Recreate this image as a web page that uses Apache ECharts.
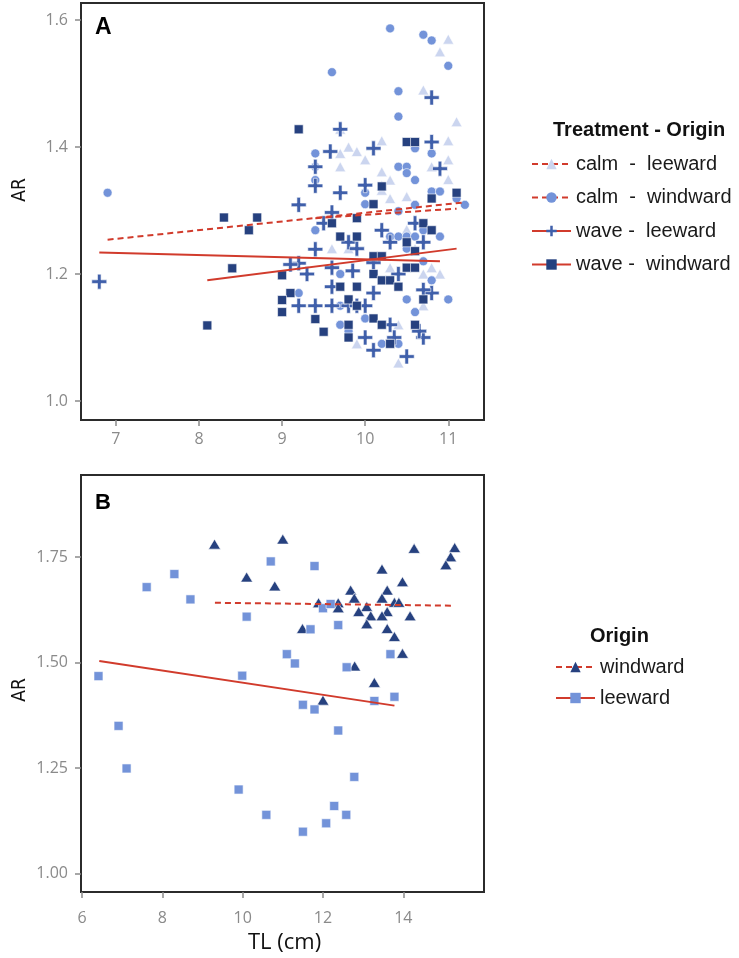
<!DOCTYPE html>
<html>
<head>
<meta charset="utf-8">
<script src="https://cdn.jsdelivr.net/npm/echarts@6/dist/echarts.min.js"></script>
<style>html,body{margin:0;padding:0;background:#fff;}#chart{width:739px;height:958px;}</style>
</head>
<body>
<div id="chart"></div>
<script>
// ---------- Panel A data (TL, AR) ----------
const calmLeeward = [[11.0,1.57],[10.9,1.55],[10.7,1.49],[11.1,1.44],[9.7,1.428],[9.8,1.40],[9.9,1.393],[10.2,1.41],[11.0,1.41],[9.7,1.39],[10.0,1.38],[11.0,1.38],[9.7,1.369],[10.2,1.361],[10.8,1.369],[11.0,1.349],[10.2,1.34],[10.3,1.348],[10.2,1.332],[10.3,1.319],[10.5,1.322],[10.5,1.27],[9.6,1.24],[9.8,1.24],[10.3,1.21],[10.7,1.2],[10.8,1.21],[10.9,1.2],[10.4,1.12],[9.9,1.09],[10.4,1.06],[10.7,1.15],[10.6,1.24],[10.3,1.26]];
const calmWindward = [[6.9,1.328],[10.3,1.587],[10.7,1.577],[10.8,1.568],[11.0,1.528],[9.6,1.518],[10.4,1.488],[10.4,1.448],[10.6,1.398],[9.4,1.39],[10.8,1.39],[9.4,1.369],[10.4,1.369],[10.5,1.369],[10.5,1.359],[10.6,1.348],[9.4,1.348],[10.0,1.328],[10.8,1.33],[10.9,1.33],[11.1,1.319],[11.2,1.309],[10.0,1.31],[10.6,1.309],[10.4,1.299],[9.4,1.269],[10.7,1.269],[10.9,1.259],[10.3,1.259],[10.4,1.259],[10.5,1.259],[10.6,1.259],[10.5,1.24],[10.7,1.22],[9.7,1.20],[10.8,1.19],[9.2,1.17],[9.7,1.15],[10.0,1.13],[9.7,1.12],[9.8,1.11],[10.2,1.09],[10.4,1.09],[10.6,1.14],[11.0,1.16],[10.5,1.16]];
const waveLeeward = [[6.8,1.188],[10.8,1.478],[9.7,1.428],[10.1,1.398],[10.8,1.408],[9.58,1.393],[9.4,1.369],[10.9,1.366],[9.4,1.339],[10.0,1.340],[9.7,1.328],[9.2,1.309],[9.6,1.297],[9.5,1.28],[10.6,1.28],[10.2,1.269],[10.7,1.25],[9.8,1.25],[9.9,1.24],[9.4,1.239],[10.3,1.25],[10.1,1.218],[9.2,1.217],[9.3,1.2],[9.6,1.21],[9.1,1.215],[10.1,1.17],[9.6,1.18],[9.2,1.15],[9.4,1.15],[9.6,1.15],[9.8,1.15],[9.9,1.15],[10.0,1.15],[10.3,1.12],[10.35,1.10],[10.7,1.10],[10.0,1.10],[10.1,1.08],[10.5,1.07],[10.8,1.17],[10.7,1.175],[10.65,1.11],[10.4,1.2],[9.85,1.205]];
const waveWindward = [[9.2,1.428],[10.5,1.408],[10.6,1.408],[10.2,1.338],[10.8,1.319],[11.1,1.328],[10.1,1.31],[8.3,1.289],[8.7,1.289],[8.6,1.269],[9.6,1.28],[9.9,1.288],[10.7,1.28],[10.8,1.269],[9.7,1.259],[9.9,1.259],[10.5,1.25],[10.6,1.236],[10.1,1.228],[10.2,1.228],[9.0,1.198],[10.5,1.21],[10.6,1.21],[10.1,1.2],[10.2,1.19],[10.3,1.19],[8.4,1.209],[8.1,1.119],[9.1,1.17],[9.0,1.159],[9.0,1.14],[9.8,1.16],[9.9,1.15],[9.7,1.18],[9.9,1.18],[9.4,1.129],[9.5,1.109],[10.1,1.13],[10.2,1.12],[10.6,1.12],[9.8,1.12],[9.8,1.10],[10.3,1.09],[10.7,1.16],[10.4,1.18]];
// fitted lines (endpoints) panel A
const fitCalmLeeward = [[9.4,1.288],[11.1,1.303]];
const fitCalmWindward = [[6.9,1.254],[11.2,1.313]];
const fitWaveLeeward = [[6.8,1.234],[10.9,1.220]];
const fitWaveWindward = [[8.1,1.190],[11.1,1.240]];

// ---------- Panel B data ----------
const windwardB = [[9.3,1.781],[11.0,1.793],[10.1,1.703],[10.8,1.682],[14.27,1.771],[15.28,1.773],[15.18,1.751],[15.06,1.732],[13.47,1.722],[13.98,1.692],[12.69,1.672],[13.6,1.672],[11.89,1.642],[12.38,1.642],[12.78,1.653],[13.47,1.653],[13.78,1.643],[13.89,1.643],[12.38,1.63],[13.09,1.633],[12.89,1.621],[13.19,1.611],[13.6,1.621],[13.47,1.611],[14.17,1.611],[13.09,1.592],[13.6,1.581],[11.49,1.581],[13.78,1.562],[13.98,1.522],[12.79,1.492],[13.28,1.453],[12.0,1.411]];
const leewardB = [[6.41,1.468],[7.61,1.679],[8.3,1.71],[8.7,1.65],[10.1,1.609],[9.99,1.469],[10.7,1.74],[11.79,1.729],[11.69,1.579],[12.0,1.629],[12.19,1.639],[12.38,1.589],[11.1,1.52],[11.3,1.498],[12.59,1.489],[13.68,1.52],[11.5,1.40],[11.79,1.389],[13.28,1.409],[13.78,1.419],[12.38,1.339],[6.91,1.35],[7.11,1.249],[9.9,1.199],[10.59,1.139],[11.5,1.099],[12.08,1.119],[12.28,1.16],[12.58,1.139],[12.78,1.229]];
const fitWindwardB = [[9.31,1.642],[15.28,1.635]];
const fitLeewardB = [[6.43,1.504],[13.78,1.398]];

// ---------- ticks ----------
const xTicksA = [7,8,9,10,11];
const yTicksA = [1.0,1.2,1.4,1.6];
const xTicksB = [6,8,10,12,14];
const yTicksB = [1.00,1.25,1.50,1.75];

const legendNamesA = ['calm  -  leeward','calm  -  windward','wave -  leeward','wave -  windward'];
const legendNamesB = ['windward','leeward'];

const C_LIGHT = '#cbd5ef', C_MID = '#7393d9', C_PLUS = '#3f5faa', C_DARK = '#26417f', C_RED = '#d13b2c';
const PLUS = 'path://M3.8,0H6.2V3.8H10V6.2H6.2V10H3.8V6.2H0V3.8H3.8Z';
const tickFont = {color:'#8a8a8a', fontSize:16, fontFamily:'Open Sans'};
const nameFont = {fontSize:19, fill:'#111', fontFamily:'Liberation Sans Narrow, DejaVu Sans Condensed, sans-serif'};

function xAxisDef(grid, min, max, ticks, margin){
  return {type:'value', gridIndex:grid, min:min, max:max,
    axisLine:{show:false}, splitLine:{show:false},
    axisTick:{show:true, length:6, customValues:ticks, lineStyle:{color:'#8a8a8a', width:1.5}},
    axisLabel:Object.assign({customValues:ticks, margin:margin}, tickFont)};
}
function yAxisDef(grid, min, max, ticks, dec){
  return {type:'value', gridIndex:grid, min:min, max:max,
    axisLine:{show:false}, splitLine:{show:false},
    axisTick:{show:true, length:6, customValues:ticks, lineStyle:{color:'#8a8a8a', width:1.5}},
    axisLabel:Object.assign({customValues:ticks, margin:13, formatter:v=>v.toFixed(dec)}, tickFont)};
}
function pts(name, data, symbol, size, color, xi){
  return {type:'scatter', name:name, xAxisIndex:xi, yAxisIndex:xi, data:data, symbol:symbol, symbolSize:size,
    itemStyle:{color:color, borderColor:'#ffffff', borderWidth:0.6, opacity:1}, emphasis:{disabled:true}, z:2};
}
function fit(name, data, dashed, symbol, color, xi){
  return {type:'line', name:name, xAxisIndex:xi, yAxisIndex:xi, data:data, showSymbol:false, symbol:symbol,
    lineStyle:{color:C_RED, width:2, type:dashed?[6,4]:'solid'}, itemStyle:{color:color}, emphasis:{disabled:true}, z:5, silent:true};
}

const chart = echarts.init(document.getElementById('chart'), null, {renderer:'canvas'});
chart.setOption({
  animation:false,
  backgroundColor:'#fff',
  grid:[
    {left:81, top:3, width:403, height:417, show:true, borderColor:'#2b2b2b', borderWidth:2, backgroundColor:'#fff'},
    {left:81, top:475, width:403, height:417, show:true, borderColor:'#2b2b2b', borderWidth:2, backgroundColor:'#fff'}
  ],
  title:[
    {text:'A', left:95, top:16, padding:0, textStyle:{fontSize:23, fontWeight:'bold', color:'#000', fontFamily:'Liberation Sans'}},
    {text:'B', left:95, top:492, padding:0, textStyle:{fontSize:22, fontWeight:'bold', color:'#000', fontFamily:'Liberation Sans'}},
    {text:'Treatment - Origin', left:553, top:120, padding:0, textStyle:{fontSize:20, fontWeight:'bold', color:'#111', fontFamily:'Liberation Sans'}},
    {text:'Origin', left:590, top:626, padding:0, textStyle:{fontSize:20, fontWeight:'bold', color:'#111', fontFamily:'Liberation Sans'}},
    {text:'TL (cm)', left:248, top:932, padding:0, textStyle:{fontSize:22, fontWeight:'normal', color:'#111', fontFamily:'Open Sans'}}
  ],
  graphic:[
    {type:'text', x:20, y:190, rotation:Math.PI/2, style:Object.assign({text:'AR', align:'center', verticalAlign:'middle'}, nameFont)},
    {type:'text', x:20, y:690, rotation:Math.PI/2, style:Object.assign({text:'AR', align:'center', verticalAlign:'middle'}, nameFont)}
  ],
  legend:[
    {orient:'vertical', left:531, top:154, padding:0, itemWidth:39, itemHeight:13, itemGap:13.5, selectedMode:false,
      textStyle:{fontSize:20, color:'#1a1a1a', fontFamily:'Liberation Sans', lineHeight:20},
      data:[
        {name:legendNamesA[0], itemStyle:{color:C_LIGHT}},
        {name:legendNamesA[1], itemStyle:{color:C_MID}},
        {name:legendNamesA[2], itemStyle:{color:C_PLUS}},
        {name:legendNamesA[3], itemStyle:{color:C_DARK}}
      ]},
    {orient:'vertical', left:555, top:657, padding:0, itemWidth:39, itemHeight:13, itemGap:11, selectedMode:false,
      textStyle:{fontSize:20, color:'#1a1a1a', fontFamily:'Liberation Sans', lineHeight:20},
      data:[
        {name:legendNamesB[0], itemStyle:{color:C_DARK}},
        {name:legendNamesB[1], itemStyle:{color:C_MID}}
      ]}
  ],
  xAxis:[ xAxisDef(0, 6.58, 11.43, xTicksA, 11), xAxisDef(1, 5.975, 16.01, xTicksB, 18) ],
  yAxis:[ yAxisDef(0, 0.97, 1.627, yTicksA, 1), yAxisDef(1, 0.956, 1.945, yTicksB, 2) ],
  series:[
    pts('pA1', calmLeeward, 'triangle', [11,10], C_LIGHT, 0),
    pts('pA2', calmWindward, 'circle', 9, C_MID, 0),
    pts('pA3', waveLeeward, PLUS, 15, C_PLUS, 0),
    pts('pA4', waveWindward, 'rect', 9, C_DARK, 0),
    fit(legendNamesA[0], fitCalmLeeward, true, 'triangle', C_LIGHT, 0),
    fit(legendNamesA[1], fitCalmWindward, true, 'circle', C_MID, 0),
    fit(legendNamesA[2], fitWaveLeeward, false, PLUS, C_PLUS, 0),
    fit(legendNamesA[3], fitWaveWindward, false, 'rect', C_DARK, 0),
    pts('pB1', windwardB, 'triangle', [12,10], C_DARK, 1),
    pts('pB2', leewardB, 'rect', 9, C_MID, 1),
    fit(legendNamesB[0], fitWindwardB, true, 'triangle', C_DARK, 1),
    fit(legendNamesB[1], fitLeewardB, false, 'rect', C_MID, 1)
  ]
});
</script>
</body>
</html>
